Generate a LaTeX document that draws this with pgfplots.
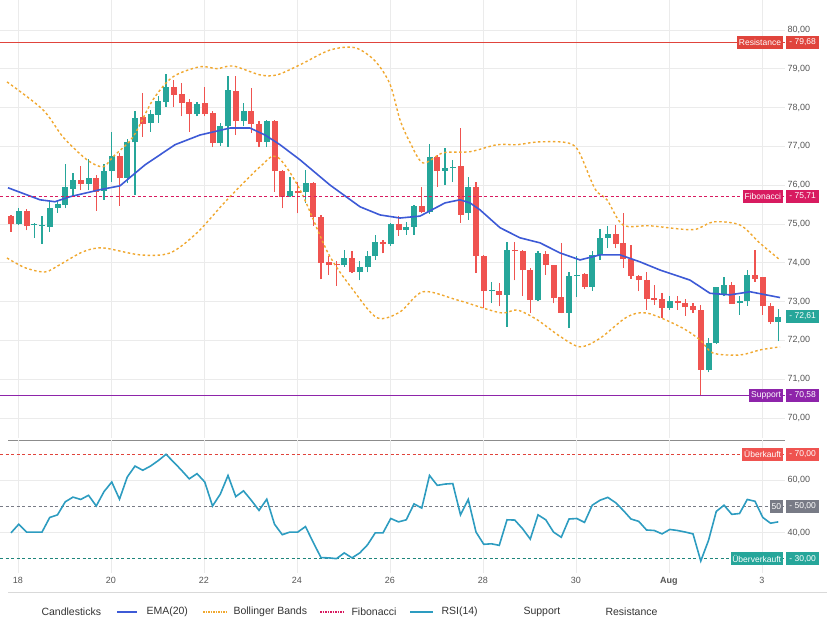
\documentclass[border=0pt]{standalone}
\usepackage{pgfplots}
\pgfplotsset{compat=1.18}
\usepackage{pgfplotstable}
\usepackage{fontspec}
\setmainfont{Liberation Sans}
\definecolor{cgreen}{HTML}{26A69A}
\definecolor{cred}{HTML}{EF5350}
\definecolor{cema}{HTML}{3D5AD6}
\definecolor{cboll}{HTML}{F0A830}
\definecolor{cfib}{HTML}{D81B60}
\definecolor{cres}{HTML}{E0443C}
\definecolor{csup}{HTML}{8E24AA}
\definecolor{crsi}{HTML}{2D9CC0}
\definecolor{cgray}{HTML}{787B86}
\definecolor{ctxt}{HTML}{555555}

\pgfplotstableread{
i o h l c
1 75.00 75.40 74.97 75.34
3 74.98 75.02 74.63 75.00
4 74.96 75.19 74.48 74.98
5 74.93 75.62 74.80 75.42
6 75.41 75.62 75.29 75.52
7 75.48 76.54 75.40 75.94
8 75.91 76.31 75.69 76.12
10 76.03 76.67 75.86 76.19
12 75.85 76.54 75.62 76.37
13 76.35 77.38 76.09 76.74
15 76.18 77.19 76.05 77.12
16 77.10 77.90 75.75 77.73
18 77.61 77.94 77.38 77.83
19 77.81 78.30 77.61 78.16
20 78.15 78.87 78.02 78.54
24 77.83 78.15 77.77 78.08
27 77.08 77.60 77.01 77.53
28 77.51 78.81 76.99 78.44
30 77.64 78.11 77.51 77.92
33 77.12 77.68 76.98 77.64
36 75.71 76.22 75.69 75.85
38 75.81 76.39 75.53 76.05
43 73.93 74.33 73.90 74.11
45 73.75 74.03 73.54 73.90
46 73.88 74.29 73.75 74.17
47 74.16 74.72 74.07 74.54
49 74.48 75.03 74.43 75.00
51 74.85 75.06 74.72 74.93
52 74.93 75.49 74.72 75.45
54 75.30 77.06 75.26 76.73
56 76.37 76.95 76.00 76.43
57 76.44 76.65 76.09 76.47
59 75.27 76.22 75.10 75.94
62 73.28 73.49 72.97 73.30
64 73.17 74.54 72.35 74.33
68 73.04 74.29 73.00 74.24
72 72.71 73.77 72.31 73.66
73 73.66 74.16 73.11 73.69
75 73.38 74.29 73.28 74.20
76 74.20 74.86 74.07 74.63
77 74.63 74.95 74.37 74.74
85 72.83 73.13 72.78 73.00
90 71.22 72.05 71.17 71.92
91 71.92 73.38 71.90 73.38
92 73.17 73.63 73.13 73.43
94 72.96 73.13 72.66 73.00
95 73.00 73.80 72.89 73.69
99 72.48 72.80 71.97 72.60
}\green

\pgfplotstableread{
i o h l c
0 75.19 75.23 74.80 75.00
2 75.34 75.38 74.83 74.95
9 76.12 76.50 75.86 76.03
11 76.19 76.25 75.34 75.83
14 76.74 76.82 75.47 76.18
17 77.75 78.37 77.25 77.58
21 78.54 78.71 78.02 78.33
22 78.34 78.63 77.77 78.11
23 78.13 78.21 77.38 77.83
25 78.11 78.54 77.77 77.83
26 77.85 77.92 76.98 77.08
29 78.42 78.80 77.29 77.64
31 77.92 78.50 77.35 77.58
32 77.57 77.64 76.98 77.12
34 77.64 77.68 75.83 76.35
35 76.37 76.39 75.40 75.69
37 75.85 76.09 75.27 75.79
39 76.06 76.09 74.95 75.17
40 75.17 75.23 73.57 74.00
41 74.01 74.16 73.69 73.93
42 73.96 74.03 73.40 73.93
44 74.11 74.29 73.74 73.75
48 74.54 74.59 74.24 74.48
50 75.00 75.19 74.69 74.83
53 75.45 75.96 75.27 75.30
55 76.73 76.78 75.96 76.37
58 76.49 77.47 75.02 75.23
60 75.94 76.09 73.73 74.18
61 74.18 74.20 72.83 73.26
63 73.26 73.47 72.87 73.17
65 74.33 74.54 73.54 74.29
66 74.30 74.33 73.14 73.80
67 73.81 73.86 72.70 73.04
69 74.23 74.29 73.69 73.94
70 73.94 73.95 72.95 73.08
71 73.11 74.50 72.69 72.71
74 73.71 73.73 73.32 73.38
78 74.74 74.98 74.37 74.48
79 74.50 75.27 73.86 74.09
80 74.09 74.46 73.58 73.66
81 73.66 73.69 73.26 73.54
82 73.54 73.77 72.78 73.06
83 73.10 73.43 72.91 73.04
84 73.06 73.21 72.57 72.83
86 73.00 73.13 72.78 72.96
87 72.97 73.06 72.63 72.85
88 72.87 72.96 72.70 72.77
89 72.77 72.91 70.55 71.24
93 73.43 73.51 72.94 72.94
96 73.69 74.33 73.51 73.58
97 73.62 73.64 72.66 72.87
98 72.89 72.96 72.42 72.46
}\red

\pgfplotstableread{
px v
8 75.93
40 75.62
55 75.57
70 75.70
100 75.88
120 75.98
145 76.52
175 77.04
200 77.29
230 77.47
250 77.47
265 77.29
280 77.04
300 76.65
330 76.00
360 75.44
380 75.23
400 75.15
420 75.20
445 75.54
460 75.62
470 75.54
480 75.36
500 74.90
520 74.64
540 74.51
560 74.25
580 74.07
600 74.20
620 74.20
640 74.02
660 73.81
690 73.55
710 73.21
730 73.17
750 73.25
780 73.10
}\ema

\pgfplotstableread{
px v
7 78.66
43 77.94
63 77.24
87 76.65
103 76.47
113 76.73
133 77.24
153 78.20
173 78.79
200 79.05
217 79.00
233 79.07
260 78.84
277 78.84
300 79.10
330 79.48
355 79.54
375 79.20
390 78.60
400 77.68
410 77.10
423 76.57
443 76.83
470 76.86
497 77.04
517 77.04
537 77.11
565 77.10
578 76.90
595 75.90
607 75.62
623 74.97
650 74.95
693 74.85
713 75.05
740 74.97
760 74.50
780 74.07
}\bup

\pgfplotstableread{
px v
7 74.12
25 73.87
45 73.76
60 73.95
83 74.28
103 74.38
140 74.20
170 74.25
197 74.77
227 75.62
260 76.47
277 76.73
300 75.88
328 74.25
353 73.30
377 72.58
400 72.73
423 73.25
457 73.04
500 72.71
517 72.78
537 72.53
560 72.10
580 71.83
600 72.05
627 72.60
647 72.70
680 72.35
700 72.01
713 71.67
740 71.62
760 71.75
780 71.83
}\blo

\pgfplotstableread{
i r
0 39.9
1 43.2
2 40.2
3 40.2
4 40.2
5 45.8
6 46.8
7 51.8
8 53.6
9 52.7
10 54.3
11 50.2
12 55.7
13 59.4
14 52.8
15 61.3
16 65.5
17 63.9
18 65.5
19 67.6
20 70.0
21 67.0
22 63.9
23 60.6
24 62.6
25 59.4
26 50.2
27 54.7
28 61.9
29 53.8
30 56.0
31 52.4
32 48.5
33 52.8
34 43.2
35 39.2
36 40.2
37 40.2
38 42.3
39 36.2
40 30.4
41 30.3
42 30.0
43 32.2
44 30.3
45 32.2
46 35.3
47 39.9
48 39.9
49 45.4
50 44.1
51 44.9
52 51.0
53 49.4
54 61.9
55 58.1
56 58.6
57 58.8
58 46.8
59 52.7
60 40.2
61 35.5
62 35.7
63 35.1
64 44.9
65 44.8
66 41.5
67 37.5
68 46.8
69 44.9
70 40.2
71 38.2
72 45.2
73 45.4
74 43.9
75 50.5
76 52.4
77 53.5
78 51.5
79 48.5
80 45.2
81 44.3
82 41.0
83 40.8
84 39.5
85 41.2
86 40.8
87 40.2
88 39.5
89 29.1
90 37.0
91 48.1
92 50.5
93 47.0
94 47.3
95 52.7
96 52.0
97 45.8
98 43.6
99 44.1
}\rsi

\tikzset{lab/.style={font=\fontsize{8.5}{9}\selectfont, text=white, inner sep=1.8pt, minimum height=12.5pt}}
\pgfplotsset{
  common/.style={
    scale only axis, width=785pt,
    xmin=-1.42, xmax=99.87,
    axis line style={draw=none},
    tick style={draw=none},
    grid=major, grid style={black!8, line width=0.6pt},
    xtick={0.9,12.9,24.9,36.9,48.9,60.9,72.9,84.9,96.9},
    yticklabel pos=right,
    ticklabel style={font=\fontsize{9}{10}\selectfont, text=ctxt},
    yticklabel style={anchor=west, xshift=-1pt},
    /pgf/number format/.cd, fixed, zerofill, precision=2, use comma, assume math mode=true,
    /pgfplots/.cd, clip=false,
  },
  wick/.style={draw=none, mark=none, forget plot,
    error bars/.cd, y dir=plus, y explicit, error mark=none,
    error bar style={draw=#1, solid, line width=1.2pt}},
  body/.style={draw=none, mark=none, forget plot,
    error bars/.cd, y dir=plus, y explicit, error mark=none,
    error bar style={draw=#1, solid, line width=6pt}},
}

\begin{document}
\begin{tikzpicture}
\path[use as bounding box] (0,0) rectangle (827pt,-620pt);

\begin{axis}[common, at={(0,0)}, anchor=north west, height=438pt,
  ymin=69.48, ymax=80.77, ytick={70,71,...,80}, xticklabels={}]
\addplot[wick=cgreen] table[x=i, y=l, y error expr=\thisrow{h}-\thisrow{l}] {\green};
\addplot[wick=cred] table[x=i, y=l, y error expr=\thisrow{h}-\thisrow{l}] {\red};
\addplot[body=cgreen] table[x=i, y=o, y error expr=\thisrow{c}-\thisrow{o}] {\green};
\addplot[body=cred] table[x=i, y=c, y error expr=\thisrow{o}-\thisrow{c}] {\red};
\addplot[cema, line width=1.6pt] table[x expr=(\thisrow{px}-11)/7.75, y=v] {\ema};
\addplot[cboll, line width=1.4pt, dash pattern=on 2.5pt off 2.5pt, smooth] table[x expr=(\thisrow{px}-11)/7.75, y=v] {\bup};
\addplot[cboll, line width=1.4pt, dash pattern=on 2.5pt off 2.5pt, smooth] table[x expr=(\thisrow{px}-11)/7.75, y=v] {\blo};
\addplot[cres, line width=1.5pt] coordinates {(-1.42,79.68) (99.87,79.68)};
\addplot[cfib, line width=1.3pt, dash pattern=on 3pt off 2.5pt] coordinates {(-1.42,75.71) (99.87,75.71)};
\addplot[csup, line width=1.5pt] coordinates {(-1.42,70.58) (99.87,70.58)};
\node[lab, fill=cres, anchor=east, xshift=-2pt] at ({rel axis cs:1,0} |- {axis cs:0,79.68}) {Resistance};
\node[lab, fill=cres, anchor=west, xshift=1pt, minimum width=33pt] at ({rel axis cs:1,0} |- {axis cs:0,79.68}) {- 79,68};
\node[lab, fill=cfib, anchor=east, xshift=-2pt] at ({rel axis cs:1,0} |- {axis cs:0,75.71}) {Fibonacci};
\node[lab, fill=cfib, anchor=west, xshift=1pt, minimum width=33pt] at ({rel axis cs:1,0} |- {axis cs:0,75.71}) {- 75,71};
\node[lab, fill=csup, anchor=east, xshift=-2pt] at ({rel axis cs:1,0} |- {axis cs:0,70.58}) {Support};
\node[lab, fill=csup, anchor=west, xshift=1pt, minimum width=33pt] at ({rel axis cs:1,0} |- {axis cs:0,70.58}) {- 70,58};
\node[lab, fill=cgreen, anchor=west, xshift=1pt, minimum width=33pt] at ({rel axis cs:1,0} |- {axis cs:0,72.61}) {- 72,61};
\end{axis}

\draw[black!45, line width=0.8pt] (8pt,-440.5pt) -- (785pt,-440.5pt);

\begin{axis}[common, at={(0,-440pt)}, anchor=north west, height=133pt,
  ymin=24.5, ymax=75.5, ytick={40,60},
  xticklabels={18,20,22,24,26,28,30,\textbf{Aug},3},
  xticklabel style={yshift=-1pt}]
\addplot[cres, line width=1.1pt, dash pattern=on 3pt off 2.5pt] coordinates {(-1.42,70) (99.87,70)};
\addplot[cgray, line width=1.1pt, dash pattern=on 3pt off 2.5pt] coordinates {(-1.42,50) (99.87,50)};
\addplot[cgreen!80!black, line width=1.1pt, dash pattern=on 3pt off 2.5pt] coordinates {(-1.42,30) (99.87,30)};
\addplot[crsi, line width=1.6pt] table[x=i, y=r] {\rsi};
\node[lab, fill=cred, anchor=east, xshift=-2pt] at ({rel axis cs:1,0} |- {axis cs:0,70}) {Überkauft};
\node[lab, fill=cred, anchor=west, xshift=1pt, minimum width=33pt] at ({rel axis cs:1,0} |- {axis cs:0,70}) {- 70,00};
\node[lab, fill=cgray, anchor=east, xshift=-2pt] at ({rel axis cs:1,0} |- {axis cs:0,50}) {50};
\node[lab, fill=cgray, anchor=west, xshift=1pt, minimum width=33pt] at ({rel axis cs:1,0} |- {axis cs:0,50}) {- 50,00};
\node[lab, fill=cgreen, anchor=east, xshift=-2pt] at ({rel axis cs:1,0} |- {axis cs:0,30}) {Überverkauft};
\node[lab, fill=cgreen, anchor=west, xshift=1pt, minimum width=33pt] at ({rel axis cs:1,0} |- {axis cs:0,30}) {- 30,00};
\end{axis}

\draw[black!15, line width=0.8pt] (8pt,-592pt) -- (827pt,-592pt);

\begin{scope}[every node/.style={font=\fontsize{10.5}{12}\selectfont, text=black!80, anchor=west}]
\node at (38pt,-612pt) {Candlesticks};
\draw[cema, line width=1.6pt] (117pt,-612pt) -- (137pt,-612pt);
\node at (143pt,-612pt) {EMA(20)};
\draw[cboll, line width=1.3pt, dash pattern=on 1.5pt off 1pt] (203pt,-612pt) -- (226pt,-612pt);
\node at (230pt,-612pt) {Bollinger Bands};
\draw[cfib, line width=1.3pt, dash pattern=on 1.5pt off 1pt] (320pt,-612pt) -- (343pt,-612pt);
\node at (348pt,-612pt) {Fibonacci};
\draw[crsi, line width=1.6pt] (410pt,-612pt) -- (433pt,-612pt);
\node at (438pt,-612pt) {RSI(14)};
\node at (520pt,-612pt) {Support};
\node at (602pt,-612pt) {Resistance};
\end{scope}
\end{tikzpicture}
\end{document}
